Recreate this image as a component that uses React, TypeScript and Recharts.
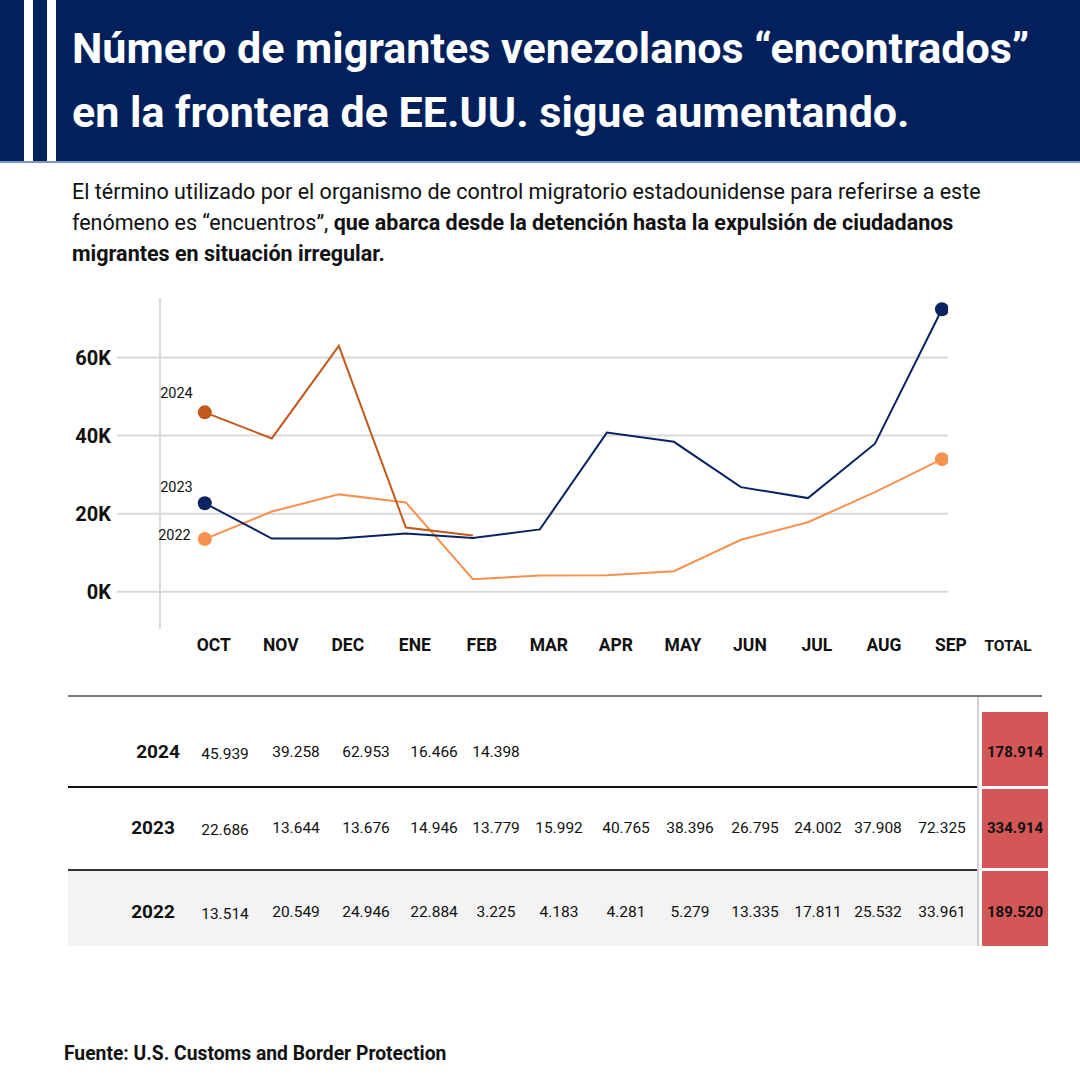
import React from 'react';
import { LineChart, Line, XAxis, YAxis, ReferenceLine } from 'recharts';

const MONTHS = ['OCT', 'NOV', 'DEC', 'ENE', 'FEB', 'MAR', 'APR', 'MAY', 'JUN', 'JUL', 'AUG', 'SEP'];
const V2024: (number | null)[] = [45939, 39258, 62953, 16466, 14398, null, null, null, null, null, null, null];
const V2023: number[] = [22686, 13644, 13676, 14946, 13779, 15992, 40765, 38396, 26795, 24002, 37908, 72325];
const V2022: number[] = [13514, 20549, 24946, 22884, 3225, 4183, 4281, 5279, 13335, 17811, 25532, 33961];
const TOTALS: Record<string, string> = { '2024': '178.914', '2023': '334.914', '2022': '189.520' };
const Y_TICKS = [0, 20000, 40000, 60000];

const fmt = (v: number | null) => (v == null ? '' : (v / 1000).toFixed(3));

const data = MONTHS.map((m, i) => ({ idx: i, m, y2024: V2024[i], y2023: V2023[i], y2022: V2022[i] }));

const NAVY = '#0b2461';
const BROWN = '#c1591d';
const LIGHT = '#f7914f';
const FONT = 'Roboto, "Noto Sans", sans-serif';

function makeDot(color: string, label: string, showLast: boolean, ldx: number, ldy: number) {
  return (props: any) => {
    const { cx, cy, index } = props;
    const last = index === MONTHS.length - 1;
    if (cx == null || cy == null || (index !== 0 && !(showLast && last))) {
      return <g key={`d-${label}-${index}`} />;
    }
    return (
      <g key={`d-${label}-${index}`}>
        <circle cx={cx} cy={cy} r={7} fill={color} />
        {index === 0 && (
          <text x={cx + ldx} y={cy + ldy} textAnchor="end" dominantBaseline="central" fontSize={14.5} fill="#111" fontFamily={FONT}>
            {label}
          </text>
        )}
      </g>
    );
  };
}

const XTick = (props: any) => {
  const { x, y, payload } = props;
  return (
    <text x={x + 9} y={y} dy="0.71em" textAnchor="middle" fontSize={17.5} fontWeight={700} fill="#111" fontFamily={FONT}>
      {MONTHS[payload.value]}
    </text>
  );
};

const COLS = [225, 296, 366, 434, 496, 559, 626, 690, 755, 818, 878, 942];
const ROWS = [
  { year: '2024', vals: V2024, y: 752 },
  { year: '2023', vals: V2023 as (number | null)[], y: 828 },
  { year: '2022', vals: V2022 as (number | null)[], y: 912 },
];

const abs = (s: React.CSSProperties): React.CSSProperties => ({ position: 'absolute', ...s });

export default function App() {
  return (
    <div style={{ position: 'absolute', left: 0, top: 0, width: 1080, height: 1080, background: '#fff', fontFamily: FONT, overflow: 'hidden' }}>
      {/* Header */}
      <div style={abs({ left: 0, top: 0, width: 1080, height: 161, background: '#02215c', borderBottom: '2px solid #7f96c0' })} />
      <div style={abs({ left: 24, top: 0, width: 9, height: 161, background: '#fff' })} />
      <div style={abs({ left: 47, top: 0, width: 9, height: 161, background: '#fff' })} />
      <div style={abs({ left: 72, top: 16, width: 1008, color: '#fff', fontSize: 43, fontWeight: 700, lineHeight: '64px', whiteSpace: 'nowrap' })}>
        Número de migrantes venezolanos “encontrados”
        <br />
        en la frontera de EE.UU. sigue aumentando.
      </div>

      {/* Subtitle */}
      <div style={abs({ left: 72, top: 176, width: 1008, color: '#111', fontSize: 21.5, lineHeight: '31px', whiteSpace: 'nowrap' })}>
        El término utilizado por el organismo de control migratorio estadounidense para referirse a este
        <br />
        fenómeno es “encuentros”, <b>que abarca desde la detención hasta la expulsión de ciudadanos</b>
        <br />
        <b>migrantes en situación irregular.</b>
      </div>

      {/* Chart */}
      <div style={abs({ left: 0, top: 280 })}>
        <LineChart width={1080} height={380} data={data} margin={{ top: 18, right: 132, bottom: 1, left: 58 }}>
          <XAxis
            type="number"
            dataKey="idx"
            domain={[-1.31, 11.09]}
            ticks={MONTHS.map((_, i) => i)}
            allowDataOverflow
            axisLine={false}
            tickLine={false}
            tickSize={0}
            tickMargin={10}
            height={30}
            tick={<XTick />}
          />
          <YAxis
            type="number"
            domain={[-9500, 75200]}
            ticks={Y_TICKS}
            allowDataOverflow
            width={59}
            axisLine={false}
            tickLine={false}
            tickSize={0}
            tickMargin={6}
            tickFormatter={(v: number) => `${v / 1000}K`}
            tick={{ fill: '#111', fontSize: 20, fontWeight: 700, fontFamily: FONT }}
          />
          {Y_TICKS.map((t) => (
            <ReferenceLine key={t} y={t} stroke="#d9d9d9" strokeWidth={2} />
          ))}
          <ReferenceLine x={-0.669} stroke="#d9d9d9" strokeWidth={2} />
          <Line type="linear" dataKey="y2022" stroke={LIGHT} strokeWidth={2} isAnimationActive={false} dot={makeDot(LIGHT, '2022', true, -14, -4)} activeDot={false} />
          <Line type="linear" dataKey="y2023" stroke={NAVY} strokeWidth={2} isAnimationActive={false} dot={makeDot(NAVY, '2023', true, -12, -16)} activeDot={false} />
          <Line type="linear" dataKey="y2024" stroke={BROWN} strokeWidth={2} isAnimationActive={false} connectNulls={false} dot={makeDot(BROWN, '2024', false, -12, -19)} activeDot={false} />
        </LineChart>
      </div>
      <div style={abs({ left: 973, top: 636, width: 70, textAlign: 'center', fontSize: 15.5, fontWeight: 700, color: '#111', lineHeight: '20px' })}>TOTAL</div>

      {/* Table */}
      <div style={abs({ left: 68, top: 695, width: 974, height: 2, background: '#7a7a7a' })} />
      <div style={abs({ left: 68, top: 871, width: 910, height: 75, background: '#f3f3f3' })} />
      <div style={abs({ left: 68, top: 786, width: 910, height: 1.5, background: '#111' })} />
      <div style={abs({ left: 68, top: 869, width: 910, height: 1.5, background: '#333' })} />
      <div style={abs({ left: 977, top: 697, width: 2, height: 249, background: '#d0d0d0' })} />
      <div style={abs({ left: 982, top: 712, width: 66, height: 74, background: '#d35756' })} />
      <div style={abs({ left: 982, top: 789, width: 66, height: 79, background: '#d35756' })} />
      <div style={abs({ left: 982, top: 871, width: 66, height: 75, background: '#d35756' })} />
      {ROWS.map((r) => (
        <React.Fragment key={r.year}>
          <div style={abs({ left: r.year === '2024' ? 118 : 113, top: r.y - 12, width: 80, textAlign: 'center', fontSize: 19, fontWeight: 700, color: '#111', lineHeight: '24px' })}>{r.year}</div>
          {r.vals.map((v, i) => (
            <div key={i} style={abs({ left: COLS[i] - 40, top: r.y - 10 + (i === 0 ? 2 : 0), width: 80, textAlign: 'center', fontSize: 15.5, color: '#111', lineHeight: '20px' })}>{fmt(v)}</div>
          ))}
          <div style={abs({ left: 975, top: r.y - 10, width: 80, textAlign: 'center', fontSize: 15, fontWeight: 700, color: '#111', lineHeight: '20px' })}>{TOTALS[r.year]}</div>
        </React.Fragment>
      ))}

      {/* Footer */}
      <div style={abs({ left: 64, top: 1042, fontSize: 19.3, fontWeight: 700, color: '#111', lineHeight: '24px', whiteSpace: 'nowrap' })}>Fuente: U.S. Customs and Border Protection</div>
    </div>
  );
}
